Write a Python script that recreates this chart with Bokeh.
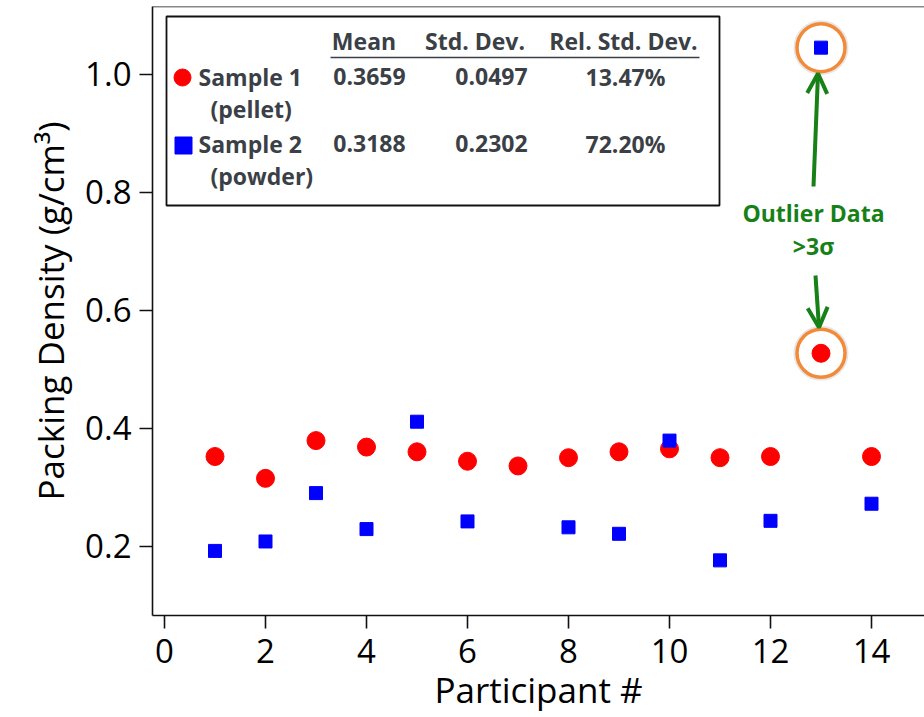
from bokeh.plotting import figure
from bokeh.models import (Range1d, FixedTicker, BoxAnnotation, Arrow, OpenHead,
                          Span, ColumnDataSource, NumeralTickFormatter)
from bokeh.core.properties import value
from bokeh.embed import file_html
from bokeh.resources import INLINE

# ---------------- data ----------------
participants_s1 = [1, 2, 3, 4, 5, 6, 7, 8, 9, 10, 11, 12, 13, 14]
density_s1 = [0.352, 0.315, 0.379, 0.368, 0.360, 0.344, 0.336,
              0.350, 0.360, 0.365, 0.350, 0.352, 0.527, 0.352]
participants_s2 = [1, 2, 3, 4, 5, 6, 8, 9, 10, 11, 12, 13, 14]
density_s2 = [0.192, 0.208, 0.290, 0.229, 0.411, 0.242,
              0.232, 0.221, 0.379, 0.176, 0.243, 1.045, 0.272]
x_ticks = [0, 2, 4, 6, 8, 10, 12, 14]
y_ticks = [0.2, 0.4, 0.6, 0.8, 1.0]
stat_headers = ["Mean", "Std. Dev.", "Rel. Std. Dev."]
sample_names = ["Sample 1", "Sample 2"]
sample_forms = ["(pellet)", "(powder)"]
means = ["0.3659", "0.3188"]
std_devs = ["0.0497", "0.2302"]
rel_std_devs = ["13.47%", "72.20%"]
outlier_participant = 13
outlier_s1 = 0.527
outlier_s2 = 1.045
outlier_text = ["Outlier Data", ">3\u03c3"]

# ---------------- styling / layout ----------------
RED = "#ff0000"
BLUE = "#0000ff"
GREEN = "#178017"
ORANGE = "#f28a3a"
TABLE_TXT = "#3b3f46"
FONT = "Open Sans"
TXT_SHIFT = 10  # correction of text baseline placement, px

X0_PX, PX_PER_X = 164.0, 50.5      # pixel of x=0, pixels per unit
Y02_PX, PX_PER_Y = 545.7, 590.0    # pixel of y=0.2, pixels per unit
FRAME_L, FRAME_R, FRAME_T, FRAME_B = 152, 924, 6, 615


def px2x(px):
    return (px - X0_PX) / PX_PER_X


def px2y(py):
    return 0.2 + (Y02_PX - py) / PX_PER_Y


def txt_y(py):
    return px2y(py - TXT_SHIFT)


x_range = Range1d(px2x(FRAME_L), px2x(FRAME_R))
y_range = Range1d(px2y(FRAME_B), px2y(FRAME_T))

p = figure(frame_width=FRAME_R - FRAME_L, frame_height=FRAME_B - FRAME_T,
           x_range=x_range, y_range=y_range,
           output_backend="svg", toolbar_location=None,
           min_border_left=FRAME_L, min_border_right=0,
           min_border_top=FRAME_T, min_border_bottom=0)
p.outline_line_color = None
p.grid.visible = False
p.background_fill_color = "white"
p.border_fill_color = "white"

# axes
for ax in (p.xaxis[0], p.yaxis[0]):
    ax.axis_line_color = "#111111"
    ax.axis_line_width = 1.6
    ax.major_tick_line_color = "#111111"
    ax.major_tick_line_width = 1.6
    ax.major_tick_out = 13
    ax.major_tick_in = 0
    ax.minor_tick_line_color = None
    ax.major_label_text_font = FONT
    ax.major_label_text_font_size = "33px"
    ax.major_label_text_color = "black"
    ax.axis_label_text_font = FONT
    ax.axis_label_text_font_size = "35px"
    ax.axis_label_text_font_style = "normal"
    ax.axis_label_text_color = "black"

p.xaxis.ticker = FixedTicker(ticks=x_ticks)
p.yaxis.ticker = FixedTicker(ticks=y_ticks)
p.yaxis.formatter = NumeralTickFormatter(format="0.0")
p.xaxis.axis_label = "Participant #"
p.yaxis.axis_label = "Packing Density (g/cm\u00b3)"
p.xaxis.major_label_standoff = 10
p.yaxis.major_label_standoff = 8
p.xaxis.axis_label_standoff = 0
p.yaxis.axis_label_standoff = 8

# top frame line
p.add_layout(Span(location=px2y(FRAME_T), dimension="width",
                  line_color="#111111", line_width=1.6))

# stats table frame (drawn beneath the glyphs)
p.add_layout(BoxAnnotation(left=px2x(166), right=px2x(719),
                           top=px2y(16), bottom=px2y(205),
                           fill_color=None, fill_alpha=0.0,
                           line_color="#111111", line_alpha=1.0,
                           line_width=1.8, level="underlay"))

# data
s1 = ColumnDataSource(dict(x=participants_s1, y=density_s1))
s2 = ColumnDataSource(dict(x=participants_s2, y=density_s2))
p.scatter("x", "y", source=s1, marker="circle", size=18,
          fill_color=RED, line_color=RED)
p.scatter("x", "y", source=s2, marker="square", size=13,
          fill_color=BLUE, line_color=BLUE)

# outlier circles (soft shadow + orange ring)
p.scatter([outlier_participant, outlier_participant], [outlier_s2, outlier_s1],
          marker="circle", size=51, fill_color=None,
          line_color="#bbbbbb", line_alpha=0.35, line_width=4)
p.scatter([outlier_participant, outlier_participant], [outlier_s2, outlier_s1],
          marker="circle", size=48, fill_color=None,
          line_color=ORANGE, line_width=3.5)

# arrows
p.add_layout(Arrow(end=OpenHead(line_color=GREEN, line_width=4, size=20),
                   x_start=px2x(813), y_start=px2y(186),
                   x_end=px2x(817.5), y_end=px2y(73),
                   line_color=GREEN, line_width=4))
p.add_layout(Arrow(end=OpenHead(line_color=GREEN, line_width=4, size=20),
                   x_start=px2x(815), y_start=px2y(275),
                   x_end=px2x(818.5), y_end=px2y(327),
                   line_color=GREEN, line_width=4))
p.text([px2x(813), px2x(813)], [txt_y(222), txt_y(255)], text=outlier_text,
       text_font=value(FONT), text_font_style="bold", text_font_size="23px",
       text_color=GREEN, text_align="center", text_baseline="alphabetic")

# stats table contents
hdr_x = [px2x(363.5), px2x(474.5), px2x(623)]
p.text(hdr_x, [txt_y(50)] * 3, text=stat_headers,
       text_font=value(FONT), text_font_style="bold", text_font_size="23px",
       text_color=TABLE_TXT, text_align="center", text_baseline="alphabetic")
p.segment([px2x(330)], [px2y(57)], [px2x(699)], [px2y(57)],
          line_color=TABLE_TXT, line_width=1.6)

row_base = [txt_y(86), txt_y(153)]
form_base = [txt_y(118), txt_y(185)]
p.text([px2x(198)] * 2, row_base, text=sample_names,
       text_font=value(FONT), text_font_style="bold", text_font_size="23px",
       text_color=TABLE_TXT, text_align="left", text_baseline="alphabetic")
p.text([px2x(210)] * 2, form_base, text=sample_forms,
       text_font=value(FONT), text_font_style="bold", text_font_size="23px",
       text_color=TABLE_TXT, text_align="left", text_baseline="alphabetic")
for col, cx in ((means, 369), (std_devs, 491), (rel_std_devs, 625)):
    p.text([px2x(cx)] * 2, row_base, text=col,
           text_font=value(FONT), text_font_style="bold", text_font_size="23px",
           text_color=TABLE_TXT, text_align="center", text_baseline="alphabetic")

p.scatter([px2x(182)], [px2y(77)], marker="circle", size=17,
          fill_color=RED, line_color=RED)
p.scatter([px2x(183)], [px2y(145)], marker="square", size=17,
          fill_color=BLUE, line_color=BLUE)

open("out.html", "w").write(file_html(p, INLINE))
